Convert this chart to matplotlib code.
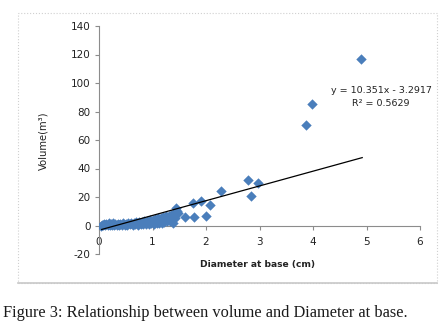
import matplotlib.pyplot as plt
from matplotlib.patches import Rectangle

plt.rcParams['axes.unicode_minus'] = False

# dense cluster of small trees + the larger ones
diameter = [0.03, 0.06, 0.08, 0.1, 0.12, 0.14, 0.16, 0.18, 0.2, 0.22, 0.24, 0.26, 0.28, 0.3,
            0.33, 0.35, 0.38, 0.4, 0.43, 0.45, 0.48, 0.5, 0.53, 0.55, 0.58, 0.6, 0.63, 0.65,
            0.68, 0.7, 0.73, 0.75, 0.78, 0.8, 0.83, 0.85, 0.88, 0.9, 0.93, 0.95, 0.98, 1.0,
            1.02, 1.05, 1.08, 1.1, 1.12, 1.15, 1.18, 1.2, 1.22, 1.25, 1.28, 1.3, 1.32, 1.35,
            1.37, 1.4, 1.42, 1.38, 1.45, 1.48, 1.43,
            1.61, 1.78, 1.75, 1.9, 2.0, 2.07, 2.28, 2.79, 2.84, 2.97, 3.86, 3.99, 4.89]
volume = [0.0, 0.1, 0.5, 1.0, 0.2, 1.2, 0.4, 1.5, 0.6, 1.3, 0.3, 1.8, 0.5, 1.1,
          0.4, 1.4, 0.6, 1.2, 0.3, 1.6, 0.7, 1.0, 0.4, 1.5, 0.8, 1.8, 0.5, 2.0,
          0.9, 2.2, 0.6, 2.5, 1.0, 2.8, 0.8, 3.0, 1.2, 3.3, 1.0, 3.6, 1.5, 4.0,
          1.2, 4.5, 1.8, 5.0, 1.5, 5.5, 2.0, 6.0, 2.5, 6.5, 3.0, 7.0, 3.5, 7.5,
          4.0, 8.5, 5.0, 2.0, 10.5, 9.0, 12.6,
          6.3, 6.3, 16.0, 17.0, 7.0, 14.7, 24.0, 31.6, 20.4, 29.5, 70.2, 85.0, 117.0]

slope = 10.351
intercept = -3.2917
r2 = 0.5629

xticks = [0, 1, 2, 3, 4, 5, 6]
yticks = [-20, 0, 20, 40, 60, 80, 100, 120, 140]

fig = plt.figure(figsize=(4.48, 3.33), dpi=100)
fig.patches.append(Rectangle((18 / 448, 1 - 283 / 333), 419 / 448, 270 / 333,
                             transform=fig.transFigure, fill=False,
                             edgecolor='#d0d0d0', lw=0.8, ls=':'))
fig.add_artist(plt.Line2D([18 / 448, 437 / 448], [1 - 283 / 333] * 2,
                          transform=fig.transFigure, color='#c8c8c8', lw=1.2))

ax = fig.add_axes([99 / 448, 1 - 254 / 333, 321 / 448, 228 / 333])
ax.scatter(diameter, volume, marker='D', s=28, color='#4a7ebb', zorder=3, linewidths=0)

x_fit = [0.05, 4.92]
ax.plot(x_fit, [slope * v + intercept for v in x_fit], color='black', lw=0.9, zorder=4)

ax.set_xlim(0, 6)
ax.set_ylim(-20, 140)
ax.set_xticks(xticks)
ax.set_yticks(yticks)
ax.spines['top'].set_visible(False)
ax.spines['right'].set_visible(False)
ax.spines['bottom'].set_position(('data', 0))
for s in ('left', 'bottom'):
    ax.spines[s].set_color('#8c8c8c')
    ax.spines[s].set_linewidth(0.8)
ax.tick_params(axis='both', colors='#8c8c8c', labelcolor='#222222', labelsize=7.5,
               length=3, width=0.8, direction='out', pad=3)
ax.tick_params(axis='x', pad=5)

ax.text(5.27, 94.5, f"y = {slope}x - {abs(intercept)}", fontsize=6.8, ha='center',
        va='center', color='#222222')
ax.text(5.27, 85.5, f"R\u00b2 = {r2}", fontsize=6.8, ha='center', va='center',
        color='#222222')

fig.text(43 / 448, 1 - 141 / 333, "Volume(m\u00b3)", rotation=90, ha='center', va='center',
         fontsize=7.2, color='#222222')
fig.text(258 / 448, 1 - 264 / 333, "Diameter at base (cm)", ha='center', va='center',
         fontsize=6.6, fontweight='bold', color='#222222')

fig.text(3 / 448, 1 - 313 / 333, "Figure 3: Relationship between volume and Diameter at base.",
         ha='left', va='center', fontsize=11.8, family='Liberation Serif', color='#1a1a1a')

plt.savefig('out.png', dpi=100)
